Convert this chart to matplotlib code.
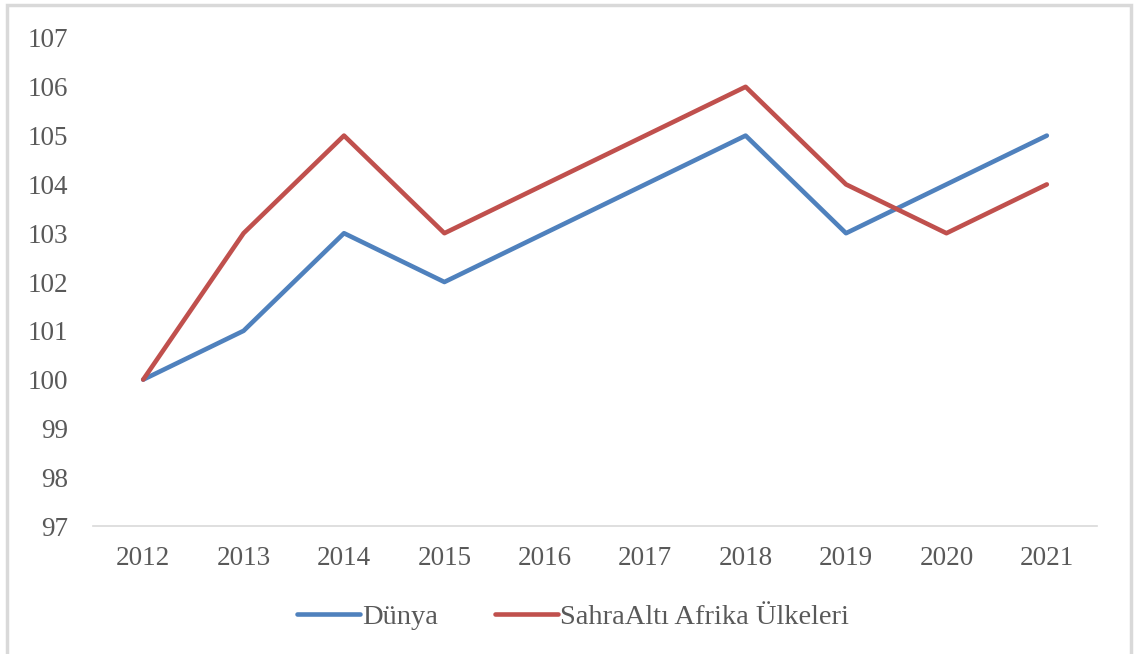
import matplotlib.pyplot as plt
from matplotlib.patches import Rectangle

# Index values (2012 = 100)
years = ['2012', '2013', '2014', '2015', '2016', '2017', '2018', '2019', '2020', '2021']
dunya = [100, 101, 103, 102, 103, 104, 105, 103, 104, 105]
sahra_alti = [100, 103, 105, 103, 104, 105, 106, 104, 103, 104]
y_ticks = [97, 98, 99, 100, 101, 102, 103, 104, 105, 106, 107]

plt.rcParams['font.family'] = ['Liberation Serif', 'DejaVu Serif']
text_color = '#595959'

fig = plt.figure(figsize=(11.34, 6.54), dpi=100)
ax = fig.add_axes([0.082, 0.1957, 0.8854, 0.7462])

x = range(len(years))
ax.plot(x, dunya, color='#4F81BD', linewidth=3.3, solid_capstyle='round', label='Dünya')
ax.plot(x, sahra_alti, color='#C0504D', linewidth=3.3, solid_capstyle='round',
        label='SahraAltı Afrika Ülkeleri')

ax.set_xlim(-0.5, len(years) - 0.5)
ax.set_ylim(97, 107)
ax.set_xticks(list(x))
ax.set_xticklabels(years)
ax.set_yticks(y_ticks)
ax.tick_params(axis='both', length=0, labelsize=19.5, colors=text_color)
ax.tick_params(axis='y', pad=18)
ax.tick_params(axis='x', pad=14.5)

for side in ['top', 'right', 'left']:
    ax.spines[side].set_visible(False)
ax.spines['bottom'].set_color('#D9D9D9')
ax.spines['bottom'].set_linewidth(1.2)

leg = ax.legend(loc='center', bbox_to_anchor=(0.478, -0.187), ncol=2, frameon=False,
                fontsize=20.5, handlelength=2.2, handletextpad=0.08, columnspacing=2.0)
for t in leg.get_texts():
    t.set_color(text_color)

# outer chart border
fig.patches.append(Rectangle((0.0065, -0.05), 0.9905, 1.043, transform=fig.transFigure,
                             fill=False, edgecolor='#D9D9D9', linewidth=2.5))

fig.savefig('out.png', dpi=100)
